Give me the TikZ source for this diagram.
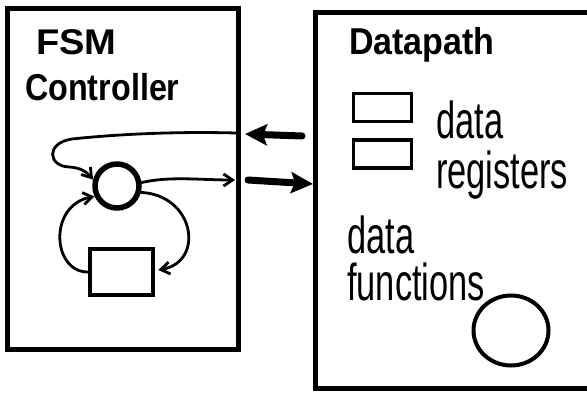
\documentclass[tikz,border=0pt]{standalone}
\usepackage{fontspec}
\setmainfont{Liberation Sans}
\usetikzlibrary{arrows.meta,calc,shapes.geometric}
\tikzset{
  frame/.style={draw, line width=5pt, rectangle, inner sep=0pt},
  statecirc/.style={draw, line width=5.5pt, circle, minimum size=44pt, inner sep=0pt},
  regbox/.style={draw, line width=3.5pt, rectangle, inner sep=0pt, minimum width=58pt, minimum height=28pt},
  funcell/.style={draw, line width=4pt, ellipse, inner sep=0pt},
  heading/.style={font=\bfseries\fontsize{34}{34}\selectfont, anchor=base west, inner sep=0pt},
  hand/.style={font=\fontsize{40}{40}\selectfont, anchor=base west, inner sep=0pt},
  wire/.style={line width=2.8pt, line cap=round, -{Straight Barb[length=9pt,width=12pt,line width=2.8pt]}},
  bus/.style={line width=7pt, line cap=round, -{Stealth[length=22pt,width=21pt,inset=4pt]}},
}
\newcommand{\handtext}[1]{\scalebox{0.86}[1.3]{#1}}
\begin{document}
\begin{tikzpicture}[x=1pt,y=-1pt]
\useasboundingbox (0,0) rectangle (587,396);
\fill[white] (0,0) rectangle (587,396);

% the two blocks
\node[frame, minimum width=231pt, minimum height=340pt] (ctrl) at (122.5,179) {};
\node[frame, minimum width=276pt, minimum height=375pt] (dp) at (453,200.5) {};

% headings
\node[heading] (fsmlbl) at (36,55) {\scalebox{1.12}[1.05]{FSM}};
\node[heading] (ctrllbl) at (25,100) {\scalebox{0.95}[1.1]{Controller}};
\node[heading] (dplbl) at (349,55) {\scalebox{1}[1.1]{Datapath}};

% controller: state and state register
\node[statecirc] (st) at (117,186) {};
\node[draw, line width=4.5pt, rectangle, inner sep=0pt, minimum width=63pt, minimum height=46pt] (sreg) at (121.5,272) {};

% datapath: registers and function unit
\node[regbox] (r1) at (382.5,107.5) {};
\node[regbox] (r2) at (382.5,154) {};
\node[funcell, minimum width=75pt, minimum height=70pt] (fu) at (511,330.5) {};

\node[hand] (t1) at (436,139) {\handtext{data}};
\node[hand] (t2) at (436,188) {\handtext{registers}};
\node[hand] (t3) at (347,253) {\handtext{data}};
\node[hand] (t4) at (347,300) {\handtext{functions}};

% ends of the wires at the block border
\coordinate (inport) at (236,133);
\coordinate (outport) at (235,180);

% controller wiring
\draw[wire] (inport) .. controls (160,131) and (100,136) .. (72,139)
  .. controls (45,143) and (48,167) .. (70,167)
  .. controls (80,168) and (86,171) .. (st.165);
\draw[wire] (st.8) .. controls (170,176) and (200,180) .. (outport);
\draw[wire] (st.-15) .. controls (195,195) and (205,262) .. ($(sreg.east)+(3,-2)$);
\draw[wire] (sreg.west) .. controls (52,272) and (48,205) .. (st.205);

% buses between the blocks
\coordinate (busAfrom) at (302,136);
\coordinate (busAto) at (245,134);
\coordinate (busBfrom) at (248,180);
\coordinate (busBto) at (313,184);
\draw[bus] (busAfrom) -- (busAto);
\draw[bus] (busBfrom) -- (busBto);
\end{tikzpicture}
\end{document}
